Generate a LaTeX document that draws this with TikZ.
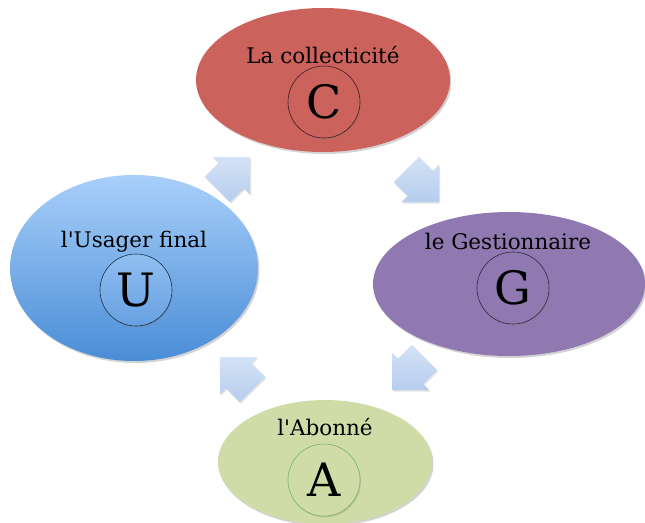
\documentclass[tikz,border=0pt]{standalone}
\usepackage{fontspec}
\setmainfont{DejaVu Serif}[Ligatures=TeXOff]
\usetikzlibrary{shapes.geometric,shadows}
\definecolor{cred}{HTML}{CB625C}
\definecolor{cpurple}{HTML}{9078B0}
\definecolor{cgreen}{HTML}{CFDCA7}
\definecolor{cbluetop}{HTML}{A8CFFA}
\definecolor{cbluebot}{HTML}{4A8DD6}
\definecolor{arrtop}{HTML}{D4E2F5}
\definecolor{arrbot}{HTML}{B6CDEE}
\tikzset{
  actor/.style={ellipse, draw=none, inner sep=0pt,
    drop shadow={opacity=0.35, shadow xshift=1.5pt, shadow yshift=-2pt}},
  lbl/.style={font=\fontsize{21.5}{25}\selectfont, text=black, inner sep=0pt},
  letter/.style={circle, draw, line width=0.6pt, minimum size=72pt, inner sep=0pt,
    font=\fontsize{46}{52}\selectfont,
    drop shadow={opacity=0.25, shadow xshift=1pt, shadow yshift=-1.5pt}},
  blockarrow/.style={top color=arrtop, bottom color=arrbot,
    drop shadow={opacity=0.22, shadow xshift=1pt, shadow yshift=-1.5pt}},
  pics/fatarrow/.style={code={
    \path[blockarrow] (0,0) -- (-26.5,26.5) -- (-26.5,18) -- (-46,18) -- (-46,-18)
      -- (-26.5,-18) -- (-26.5,-26.5) -- cycle;
  }}
}
\begin{document}
\begin{tikzpicture}[x=1pt,y=-1pt]
\useasboundingbox (0,0) rectangle (645,522);
% ellipses
\node[actor, fill=cred, minimum width=254pt, minimum height=144pt] (C) at (323,80) {};
\node[actor, top color=cbluetop, bottom color=cbluebot, minimum width=248pt, minimum height=186pt] (U) at (134,268) {};
\node[actor, fill=cpurple, minimum width=272pt, minimum height=144pt] (G) at (509,284) {};
\node[actor, fill=cgreen, minimum width=214pt, minimum height=124pt] (A) at (325,462) {};
% labels
\node[lbl] (tC) at (323,55) {La collecticité};
\node[lbl] (tU) at (134,242) {l'Usager final};
\node[lbl] (tG) at (508,241) {le Gestionnaire};
\node[lbl] (tA) at (325,427) {l'Abonné};
% letter circles
\node[letter, fill=cred, draw=black!70!cred] (cC) at (324,102) {C};
\node[letter, top color=cbluebot!25!cbluetop, bottom color=cbluebot!70!cbluetop, draw=black!65!cbluebot] (cU) at (136,290) {U};
\node[letter, fill=cpurple, draw=black!65!cpurple] (cG) at (513,288) {G};
\node[letter, fill=cgreen, draw=black!55!green!40!cgreen] (cA) at (324,480) {A};
% block arrows (tip positions)
\coordinate (t1) at (250,157);
\coordinate (t2) at (439,202);
\coordinate (t3) at (392,390);
\coordinate (t4) at (220,357);
\pic[rotate=45] at (t1) {fatarrow};
\pic[rotate=-45] at (t2) {fatarrow};
\pic[rotate=-135] at (t3) {fatarrow};
\pic[rotate=135] at (t4) {fatarrow};
\end{tikzpicture}
\end{document}
